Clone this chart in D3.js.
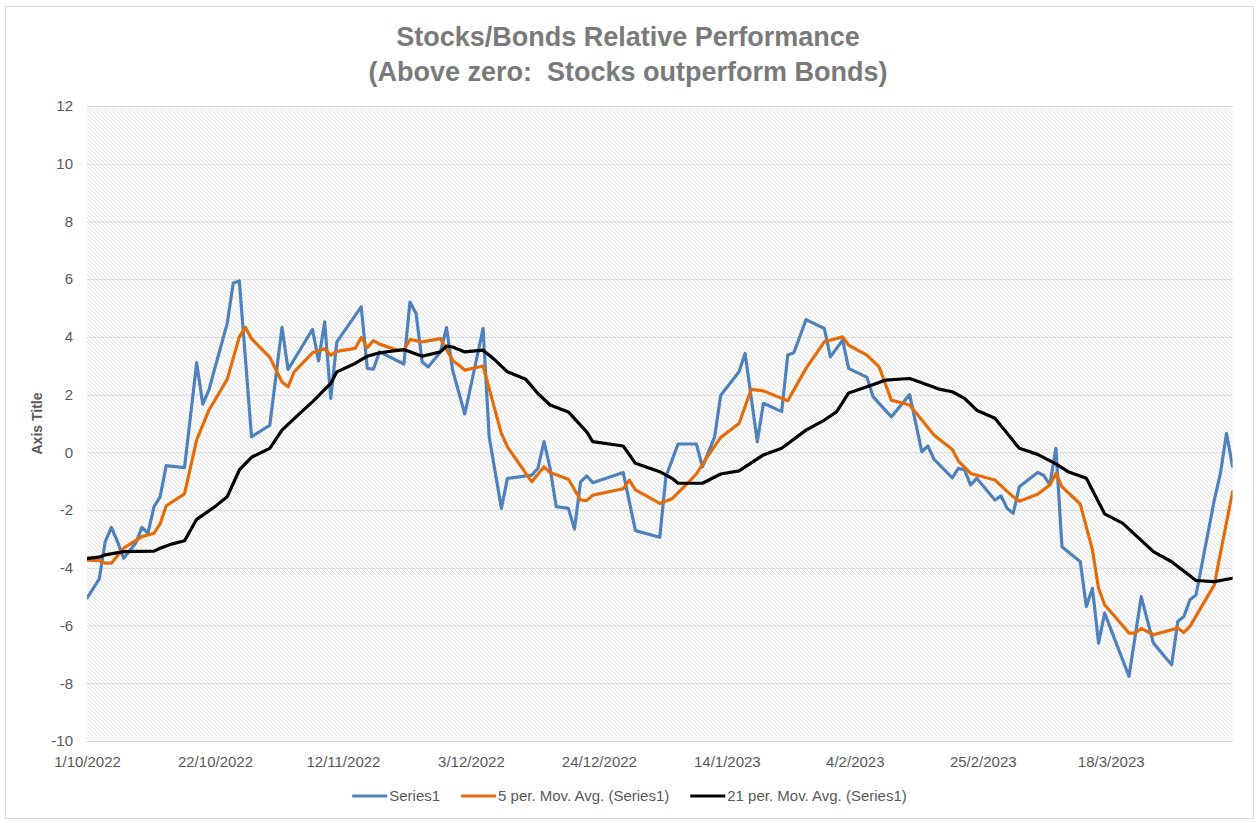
<!DOCTYPE html>
<html lang="en">
<head>
<meta charset="utf-8">
<title>Stocks/Bonds Relative Performance</title>
<script src="https://d3js.org/d3.v7.min.js"></script>
<style>
	body { margin: 0; background: #fff; }
	svg { display: block; font-family: "Liberation Sans", Arial, Helvetica, sans-serif; }
	.line { fill: none; stroke-width: 3.2px; stroke-linejoin: round; stroke-linecap: round; }
	.grid line { stroke: #d9d9d9; stroke-width: 1px; }
	.axis text { fill: #595959; font-size: 15px; }
	.legend text { fill: #595959; font-size: 15px; }
</style>
</head>
<body>
<svg id="chart" width="1256" height="823"></svg>
<script>
// values (dates are d/m/yyyy)
var series1Dates = ["1/10/2022","3/10/2022","4/10/2022","5/10/2022","6/10/2022","7/10/2022","9/10/2022","10/10/2022","11/10/2022","12/10/2022","13/10/2022","14/10/2022","17/10/2022","19/10/2022","20/10/2022","21/10/2022","24/10/2022","25/10/2022","26/10/2022","28/10/2022","31/10/2022",
	"2/11/2022","3/11/2022","7/11/2022","8/11/2022","9/11/2022","10/11/2022","11/11/2022","15/11/2022","16/11/2022","17/11/2022","18/11/2022","22/11/2022","23/11/2022","24/11/2022","25/11/2022","26/11/2022","28/11/2022","29/11/2022","30/11/2022",
	"2/12/2022","5/12/2022","6/12/2022","8/12/2022","9/12/2022","13/12/2022","14/12/2022","15/12/2022","16/12/2022","17/12/2022","19/12/2022","20/12/2022","21/12/2022","22/12/2022","23/12/2022","28/12/2022","30/12/2022",
	"3/1/2023","4/1/2023","6/1/2023","9/1/2023","10/1/2023","12/1/2023","13/1/2023","16/1/2023","17/1/2023","19/1/2023","20/1/2023","23/1/2023","24/1/2023","25/1/2023","27/1/2023","30/1/2023","31/1/2023",
	"2/2/2023","3/2/2023","6/2/2023","7/2/2023","10/2/2023","13/2/2023","15/2/2023","16/2/2023","17/2/2023","20/2/2023","21/2/2023","22/2/2023","23/2/2023","24/2/2023","27/2/2023","28/2/2023",
	"1/3/2023","2/3/2023","3/3/2023","6/3/2023","7/3/2023","8/3/2023","9/3/2023","10/3/2023","13/3/2023","14/3/2023","15/3/2023","16/3/2023","17/3/2023","21/3/2023","23/3/2023","25/3/2023","28/3/2023","29/3/2023","30/3/2023","31/3/2023",
	"1/4/2023","4/4/2023","5/4/2023","6/4/2023","7/4/2023"];
var series1Values = [-5.05,-4.39,-3.09,-2.6,-3.09,-3.67,-3.14,-2.6,-2.8,-1.88,-1.54,-0.46,-0.53,3.1,1.67,2.16,4.46,5.87,5.94,0.54,0.94,
	4.33,2.87,4.26,3.17,4.52,1.87,3.83,5.04,2.91,2.88,3.48,3.06,5.21,4.81,3.14,2.96,3.48,4.32,2.85,
	1.33,4.29,0.54,-1.94,-0.9,-0.79,-0.55,0.37,-0.55,-1.88,-1.94,-2.66,-1.02,-0.82,-1.05,-0.7,-2.71,
	-2.94,-0.84,0.29,0.29,-0.5,0.54,1.98,2.79,3.43,0.37,1.7,1.41,3.37,3.45,4.6,4.29,3.31,
	3.89,2.91,2.6,1.93,1.23,2.0,0.02,0.22,-0.24,-0.88,-0.55,-0.61,-1.13,-0.9,-1.65,-1.51,
	-1.94,-2.11,-1.19,-0.7,-0.79,-1.13,0.14,-3.27,-3.79,-5.34,-4.71,-6.61,-5.57,-7.76,-5.0,-6.61,-7.36,-5.86,-5.69,-5.11,
	-4.94,-1.65,-0.73,0.66,-0.5];

var ma5Dates = ["1/10/2022","3/10/2022","4/10/2022","5/10/2022","7/10/2022","10/10/2022","12/10/2022","13/10/2022","14/10/2022","17/10/2022","19/10/2022","21/10/2022","24/10/2022","26/10/2022","27/10/2022","28/10/2022","31/10/2022",
	"2/11/2022","3/11/2022","4/11/2022","7/11/2022","9/11/2022","10/11/2022","11/11/2022","14/11/2022","15/11/2022","16/11/2022","17/11/2022","18/11/2022","21/11/2022","22/11/2022","23/11/2022","25/11/2022","28/11/2022","30/11/2022",
	"2/12/2022","5/12/2022","8/12/2022","9/12/2022","13/12/2022","15/12/2022","16/12/2022","19/12/2022","21/12/2022","22/12/2022","23/12/2022","28/12/2022","29/12/2022","30/12/2022",
	"3/1/2023","5/1/2023","7/1/2023","9/1/2023","11/1/2023","13/1/2023","16/1/2023","18/1/2023","20/1/2023","24/1/2023","27/1/2023","30/1/2023",
	"2/2/2023","3/2/2023","6/2/2023","8/2/2023","10/2/2023","13/2/2023","17/2/2023","20/2/2023","21/2/2023","23/2/2023","27/2/2023",
	"2/3/2023","3/3/2023","6/3/2023","8/3/2023","9/3/2023","10/3/2023","13/3/2023","15/3/2023","16/3/2023","17/3/2023","21/3/2023","22/3/2023","23/3/2023","25/3/2023","29/3/2023","30/3/2023","31/3/2023",
	"4/4/2023","5/4/2023","7/4/2023"];
var ma5Values = [-3.73,-3.75,-3.84,-3.84,-3.32,-2.92,-2.8,-2.48,-1.85,-1.44,0.43,1.46,2.53,4.0,4.33,3.94,3.29,
	2.44,2.27,2.79,3.45,3.59,3.37,3.5,3.6,3.98,3.63,3.87,3.75,3.54,3.54,3.91,3.83,3.94,3.19,
	2.85,2.99,0.66,0.19,-1.02,-0.5,-0.7,-0.93,-1.65,-1.67,-1.48,-1.26,-0.96,-1.3,
	-1.77,-1.61,-1.19,-0.75,-0.09,0.52,1.0,2.18,2.13,1.79,2.91,3.83,
	4.0,3.71,3.37,2.96,1.81,1.64,0.6,0.1,-0.3,-0.73,-0.96,
	-1.54,-1.69,-1.45,-1.13,-0.73,-1.19,-1.79,-3.38,-4.71,-5.28,-6.26,-6.26,-6.1,-6.32,-6.09,-6.24,-6.03,
	-4.59,-3.5,-1.36];

var ma21Dates = ["1/10/2022","3/10/2022","4/10/2022","7/10/2022","12/10/2022","13/10/2022","15/10/2022","17/10/2022","19/10/2022","22/10/2022","24/10/2022","26/10/2022","28/10/2022","31/10/2022",
	"2/11/2022","5/11/2022","7/11/2022","10/11/2022","11/11/2022","14/11/2022","16/11/2022","18/11/2022","22/11/2022","25/11/2022","28/11/2022","29/11/2022","30/11/2022",
	"2/12/2022","5/12/2022","7/12/2022","9/12/2022","12/12/2022","14/12/2022","16/12/2022","19/12/2022","22/12/2022","23/12/2022","28/12/2022","30/12/2022",
	"3/1/2023","5/1/2023","6/1/2023","10/1/2023","13/1/2023","16/1/2023","20/1/2023","23/1/2023","27/1/2023","30/1/2023",
	"1/2/2023","3/2/2023","6/2/2023","9/2/2023","13/2/2023","15/2/2023","18/2/2023","20/2/2023","22/2/2023","24/2/2023","27/2/2023",
	"3/3/2023","6/3/2023","9/3/2023","11/3/2023","14/3/2023","17/3/2023","20/3/2023","25/3/2023","28/3/2023",
	"1/4/2023","4/4/2023","7/4/2023"];
var ma21Values = [-3.67,-3.63,-3.55,-3.44,-3.42,-3.32,-3.17,-3.06,-2.32,-1.88,-1.54,-0.61,-0.17,0.14,
	0.77,1.37,1.75,2.39,2.79,3.08,3.33,3.45,3.56,3.33,3.48,3.68,3.65,
	3.48,3.54,3.19,2.79,2.53,2.04,1.64,1.4,0.71,0.37,0.22,-0.38,
	-0.67,-0.9,-1.07,-1.07,-0.75,-0.64,-0.09,0.14,0.77,1.12,
	1.4,2.06,2.27,2.5,2.56,2.41,2.18,2.1,1.87,1.46,1.18,
	0.14,-0.07,-0.4,-0.67,-0.9,-2.13,-2.46,-3.44,-3.79,
	-4.44,-4.48,-4.36];

var xTickLabels = ["1/10/2022","22/10/2022","12/11/2022","3/12/2022","24/12/2022","14/1/2023","4/2/2023","25/2/2023","18/3/2023"];
var yTicks = [-10,-8,-6,-4,-2,0,2,4,6,8,10,12];
var xStart = "1/10/2022", xEnd = "7/4/2023";

var seriesNames = ["Series1", "5 per. Mov. Avg. (Series1)", "21 per. Mov. Avg. (Series1)"];
var seriesColors = ["#4f81bd", "#e46c0a", "#000000"];

var parseDate = d3.utcParse("%d/%m/%Y");
var svg = d3.select("#chart");
var margin = {top: 106, right: 23.4, bottom: 82, left: 87},
	width = 1256 - margin.left - margin.right,
	height = 823 - margin.top - margin.bottom;

// chart border
svg.append("rect")
	.attr("x", 5.5).attr("y", 6.5).attr("width", 1248).attr("height", 812)
	.attr("fill", "#fff").attr("stroke", "#d9d9d9");

// hatch pattern of the plot area
var defs = svg.append("defs");
var pat = defs.append("pattern")
	.attr("id", "hatch").attr("patternUnits", "userSpaceOnUse")
	.attr("width", 4).attr("height", 4);
pat.append("rect").attr("width", 4).attr("height", 4).attr("fill", "#fff");
pat.append("path")
	.attr("d", "M-1,-1L5,5M-1,3L1,5M3,-1L5,1")
	.attr("stroke", "#d2d2d2").attr("stroke-width", 0.7);
defs.append("clipPath").attr("id", "plotclip")
	.append("rect").attr("width", width).attr("height", height);

var g = svg.append("g").attr("transform", "translate(" + margin.left + "," + margin.top + ")");

var x = d3.scaleUtc().domain([parseDate(xStart), parseDate(xEnd)]).range([0, width]);
var y = d3.scaleLinear().domain([-10, 12]).range([height, 0]);

g.append("rect").attr("width", width).attr("height", height).attr("fill", "url(#hatch)");

// gridlines
g.append("g").attr("class", "grid")
	.selectAll("line").data(yTicks).enter().append("line")
	.attr("x1", 0).attr("x2", width)
	.attr("y1", function (d) { return y(d) + 0.5; })
	.attr("y2", function (d) { return y(d) + 0.5; });

// y axis
var yAxis = g.append("g").attr("class", "axis")
	.call(d3.axisLeft(y).tickValues(yTicks).tickSize(0).tickPadding(14)
		.tickFormat(function (d) { return String(d); }));
yAxis.select(".domain").remove();
yAxis.selectAll("text").style("font-family", "inherit");

// x axis
var xAxis = g.append("g").attr("class", "axis")
	.attr("transform", "translate(0," + height + ")")
	.call(d3.axisBottom(x).tickValues(xTickLabels.map(parseDate))
		.tickFormat(d3.utcFormat("%-d/%-m/%Y")).tickSize(0).tickPadding(15));
xAxis.select(".domain").remove();
xAxis.selectAll("text").style("font-family", "inherit");

// axis title
svg.append("text")
	.attr("transform", "translate(42," + (margin.top + height / 2) + ") rotate(-90)")
	.attr("text-anchor", "middle")
	.style("font-size", "14px").style("font-weight", "bold").style("fill", "#595959")
	.text("Axis Title");

// chart title
var title = svg.append("text").attr("text-anchor", "middle")
	.style("font-size", "27px").style("font-weight", "bold").style("fill", "#7a7a7a");
title.append("tspan").attr("x", 628).attr("y", 46).text("Stocks/Bonds Relative Performance");
title.append("tspan").attr("x", 628).attr("y", 81).text("(Above zero:\u00a0 Stocks outperform Bonds)");

// lines
var allSeries = [
	{dates: series1Dates, values: series1Values},
	{dates: ma5Dates, values: ma5Values},
	{dates: ma21Dates, values: ma21Values}
].map(function (s, i) {
	return {
		name: seriesNames[i],
		color: seriesColors[i],
		values: s.dates.map(function (d, j) { return {date: parseDate(d), v: s.values[j]}; })
	};
});

var line = d3.line()
	.x(function (d) { return x(d.date); })
	.y(function (d) { return y(d.v); });

g.append("g").attr("clip-path", "url(#plotclip)")
	.selectAll(".line").data(allSeries).enter().append("path")
	.attr("class", "line")
	.attr("d", function (d) { return line(d.values); })
	.style("stroke", function (d) { return d.color; });

// legend, centred under the plot
var legend = svg.append("g").attr("class", "legend");
var items = legend.selectAll("g").data(allSeries).enter().append("g");
items.append("line").attr("x1", 0).attr("x2", 35).attr("y1", 0).attr("y2", 0)
	.attr("stroke", function (d) { return d.color; }).attr("stroke-width", 3.2);
items.append("text").attr("x", 37).attr("dy", "0.35em").text(function (d) { return d.name; });
var offs = [], cur = 0;
items.each(function () {
	offs.push(cur);
	cur += 37 + this.querySelector("text").getComputedTextLength() + 21;
});
var total = cur - 21;
items.attr("transform", function (d, i) { return "translate(" + (offs[i]) + ",0)"; });
legend.attr("transform", "translate(" + (629.5 - total / 2) + ",796)");
</script>
</body>
</html>
